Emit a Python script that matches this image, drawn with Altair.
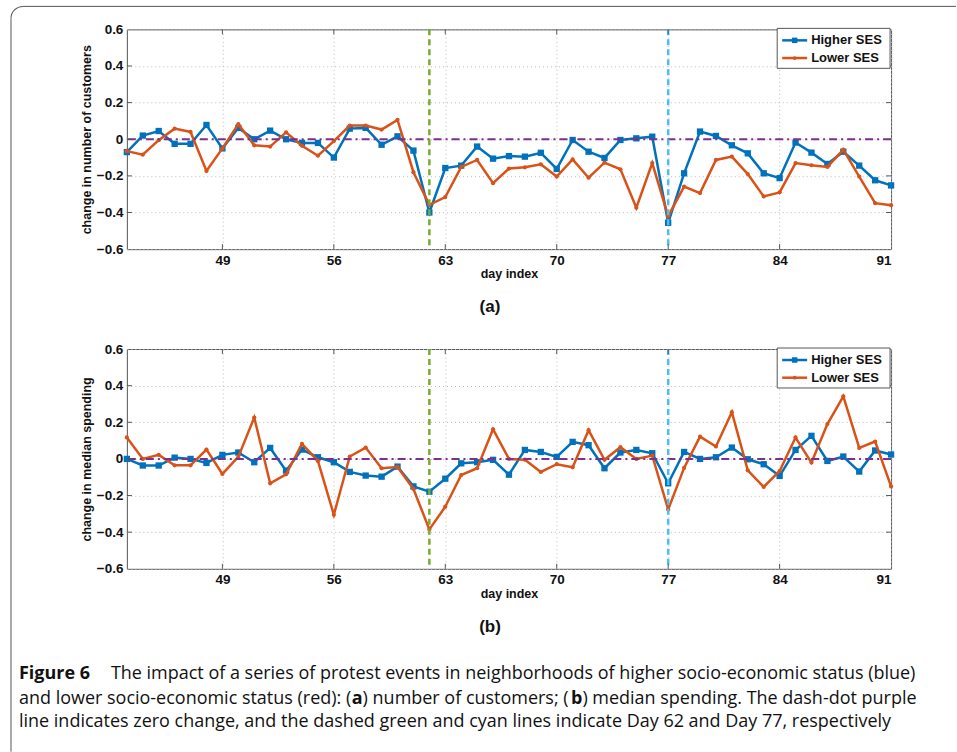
import altair as alt
import pandas as pd

# ---------------- data ----------------
days = list(range(43, 92))

cust_high = [-0.07, 0.02, 0.045, -0.025, -0.025, 0.078, -0.05, 0.062, 0.0, 0.047,
             0.0, -0.02, -0.02, -0.1, 0.058, 0.062,
             -0.03, 0.016, -0.062, -0.40, -0.157, -0.144, -0.04, -0.106, -0.092, -0.095,
             -0.074, -0.162, -0.004, -0.068, -0.102, -0.004, 0.005, 0.014, -0.456,
             -0.186, 0.042, 0.018, -0.033, -0.077, -0.186, -0.212, -0.018, -0.073, -0.135,
             -0.068, -0.144, -0.224, -0.252]
cust_low = [-0.065, -0.084, -0.005, 0.058, 0.04, -0.173, -0.05, 0.082, -0.033, -0.04,
            0.038, -0.036, -0.09, -0.01, 0.075, 0.075,
            0.053, 0.106, -0.18, -0.358, -0.316, -0.151, -0.113, -0.24, -0.16, -0.153,
            -0.137, -0.204, -0.11, -0.21, -0.128, -0.164, -0.374, -0.13, -0.42,
            -0.259, -0.294, -0.113, -0.095, -0.19, -0.312, -0.29, -0.13, -0.142, -0.151,
            -0.057, -0.204, -0.349, -0.36]
spend_high = [0.0, -0.036, -0.036, 0.007, 0.0, -0.022, 0.022, 0.035, -0.018, 0.06,
              -0.064, 0.051, 0.009, -0.018, -0.071, -0.091,
              -0.097, -0.042, -0.15, -0.179, -0.108, -0.024, -0.018, -0.005, -0.086, 0.049,
              0.038, 0.011, 0.093, 0.075, -0.051, 0.035, 0.049, 0.031, -0.133,
              0.038, 0.0, 0.009, 0.062, -0.002, -0.029, -0.093, 0.049, 0.126, -0.011,
              0.013, -0.069, 0.046, 0.024]
spend_low = [0.117, 0.0, 0.022, -0.035, -0.035, 0.051, -0.082, 0.011, 0.226, -0.133,
             -0.084, 0.082, -0.011, -0.305, 0.013, 0.062,
             -0.051, -0.044, -0.164, -0.385, -0.261, -0.088, -0.051, 0.162, 0.0, -0.004,
             -0.071, -0.029, -0.046, 0.157, -0.005, 0.064, 0.0, 0.018, -0.276,
             -0.049, 0.122, 0.068, 0.255, -0.062, -0.153, -0.066, 0.117, -0.02, 0.19,
             0.341, 0.06, 0.095, -0.15]

series_names = ["Higher SES", "Lower SES"]
x_ticks = [49, 56, 63, 70, 77, 84, 91]
y_ticks = [-0.6, -0.4, -0.2, 0, 0.2, 0.4, 0.6]
event_days = [62, 77]
y_titles = ["change in number of customers", "change in median spending"]
panel_labels = ["(a)", "(b)"]
x_title = "day index"

caption_line1 = ["Figure 6", "The impact of a series of protest events in neighborhoods of higher socio-economic status (blue)"]
caption_line2 = ["and lower socio-economic status (red): (", "a", ") number of customers; (", "b", ") median spending. The dash-dot purple"]
caption_line3 = "line indicates zero change, and the dashed green and cyan lines indicate Day 62 and Day 77, respectively"

# ---------------- style ----------------
BLUE = "#0072BD"
RED = "#D95319"
GREEN = "#77AC30"
CYAN = "#4DBEEE"
PURPLE = "#7E2F8E"
AX = "#555555"
FONT = "Liberation Sans"
CAP_FONT = "Open Sans"
CAP_SIZE = 18
W, H = 765, 220

one = pd.DataFrame({"k": [0]})


def txt(s, x, y, size, weight="normal", align="left", font=FONT, color="#111"):
    return alt.Chart(pd.DataFrame({"t": [s]})).mark_text(
        align=align, baseline="middle", font=font, fontSize=size,
        fontWeight=weight, color=color
    ).encode(x=alt.value(x), y=alt.value(y), text="t:N")


def panel(high, low, ytitle, label, extra):
    df_hi = pd.DataFrame({"day": days, "value": high})
    df_lo = pd.DataFrame({"day": days, "value": low})
    X = alt.X("day:Q", scale=alt.Scale(domain=[43, 91], nice=False, zero=False),
              axis=alt.Axis(values=x_ticks, title=x_title, ticks=False, domain=False,
                            grid=True, labelPadding=4, titlePadding=1, format="d",
                            labelOverlap=False, labelFontSize=13.5, labelFont=FONT,
                            labelFontWeight="bold"))
    Y = alt.Y("value:Q", scale=alt.Scale(domain=[-0.6, 0.6], nice=False, zero=False),
              axis=alt.Axis(values=y_ticks, title=ytitle, format=".1~f", ticks=False,
                            domain=False, grid=True, labelPadding=4, titlePadding=3,
                            labelOverlap=False, labelFontSize=13.5, labelFont=FONT,
                            labelFontWeight="bold"))
    hi_line = alt.Chart(df_hi).mark_line(color=BLUE, strokeWidth=2.5).encode(x=X, y=Y)
    hi_pts = alt.Chart(df_hi).mark_point(shape="square", filled=True, opacity=1,
                                         color=BLUE, size=40).encode(x=X, y=Y)
    lo_line = alt.Chart(df_lo).mark_line(color=RED, strokeWidth=2.5).encode(x=X, y=Y)
    lo_pts = alt.Chart(df_lo).mark_circle(color=RED, size=18, opacity=1).encode(x=X, y=Y)
    zero = alt.Chart(pd.DataFrame({"value": [0]})).mark_rule(
        color=PURPLE, strokeWidth=2, strokeDash=[8, 4, 2, 4]).encode(y=Y)
    v1 = alt.Chart(pd.DataFrame({"day": [event_days[0]]})).mark_rule(
        color=GREEN, strokeWidth=2.5, strokeDash=[6, 4]).encode(x=X)
    v2 = alt.Chart(pd.DataFrame({"day": [event_days[1]]})).mark_rule(
        color=CYAN, strokeWidth=2.5, strokeDash=[6, 4]).encode(x=X)
    xt = pd.DataFrame({"day": x_ticks[:-1]})
    yt = pd.DataFrame({"value": y_ticks[1:-1]})
    tb = alt.Chart(xt).mark_rule(color=AX, strokeWidth=1).encode(
        x=X, y=alt.value(H), y2=alt.value(H - 5))
    tt = alt.Chart(xt).mark_rule(color=AX, strokeWidth=1).encode(
        x=X, y=alt.value(0), y2=alt.value(5))
    tl = alt.Chart(yt).mark_rule(color=AX, strokeWidth=1).encode(
        y=Y, x=alt.value(0), x2=alt.value(5))
    tr = alt.Chart(yt).mark_rule(color=AX, strokeWidth=1).encode(
        y=Y, x=alt.value(W - 5), x2=alt.value(W))
    # legend
    box = alt.Chart(one).mark_rect(fill="white", stroke=AX, strokeWidth=1).encode(
        x=alt.value(651), x2=alt.value(764), y=alt.value(-1), y2=alt.value(39))
    leg = [box]
    for i, (name, col) in enumerate(zip(series_names, [BLUE, RED])):
        yy = 11 + i * 17.7
        leg.append(alt.Chart(one).mark_rule(color=col, strokeWidth=2.5).encode(
            x=alt.value(656), x2=alt.value(681), y=alt.value(yy)))
        if i == 0:
            leg.append(alt.Chart(one).mark_point(shape="square", filled=True, opacity=1,
                                                 color=col, size=30).encode(
                x=alt.value(668.5), y=alt.value(yy)))
        else:
            leg.append(alt.Chart(one).mark_circle(color=col, size=14, opacity=1).encode(
                x=alt.value(668.5), y=alt.value(yy)))
        leg.append(txt(name, 685, yy, 13, "bold"))
    lab = txt(label, 363.5, 278, 17, "bold", align="center")
    layers = [hi_line, hi_pts, lo_line, lo_pts, zero, v1, v2, tb, tt, tl, tr] + leg + [lab] + extra
    return alt.layer(*layers).properties(width=W, height=H)


# frame (top-left rounded corner of the figure box)
FR = "#555555"
frame = [
    alt.Chart(one).mark_rule(color=FR, strokeWidth=1).encode(
        x=alt.value(-104), x2=alt.value(830), y=alt.value(-23)),
    alt.Chart(one).mark_rule(color=FR, strokeWidth=1).encode(
        x=alt.value(-116), y=alt.value(-11), y2=alt.value(723)),
    alt.Chart(one).mark_arc(fill=FR, innerRadius=11.5, outerRadius=12.5,
                            theta=4.71239, theta2=6.28319).encode(
        x=alt.value(-104), y=alt.value(-11)),
]

caption = [
    txt(caption_line1[0], -108, 325, CAP_SIZE, "bold", font=CAP_FONT),
    txt(caption_line1[1], -16, 325, CAP_SIZE, font=CAP_FONT),
    txt(caption_line2[0], -108, 350, CAP_SIZE, font=CAP_FONT),
    txt(caption_line2[1], 225, 350, CAP_SIZE, "bold", font=CAP_FONT),
    txt(caption_line2[2], 236, 350, CAP_SIZE, font=CAP_FONT),
    txt(caption_line2[3], 444.5, 350, CAP_SIZE, "bold", font=CAP_FONT),
    txt(caption_line2[4], 456, 350, CAP_SIZE, font=CAP_FONT),
    txt(caption_line3, -108, 373, CAP_SIZE, font=CAP_FONT),
]

pa = panel(cust_high, cust_low, y_titles[0], panel_labels[0], frame)
pb = panel(spend_high, spend_low, y_titles[1], panel_labels[1], caption)

chart = alt.vconcat(pa, pb, spacing=100, bounds="flush").properties(
    padding={"left": 10, "top": 5, "right": 0, "bottom": 0},
    background="white",
).configure_view(stroke=AX, strokeWidth=1).configure_axis(
    labelFont=FONT, labelFontWeight="bold", labelFontSize=13.5, labelColor="#111",
    labelOverlap=False,
    titleFont=FONT, titleFontWeight="bold", titleFontSize=12.5, titleColor="#111",
    gridColor="#bbbbbb", gridDash=[1, 3], gridWidth=1,
)

chart.save("out.html", embed_options={"renderer": "svg", "actions": False})
